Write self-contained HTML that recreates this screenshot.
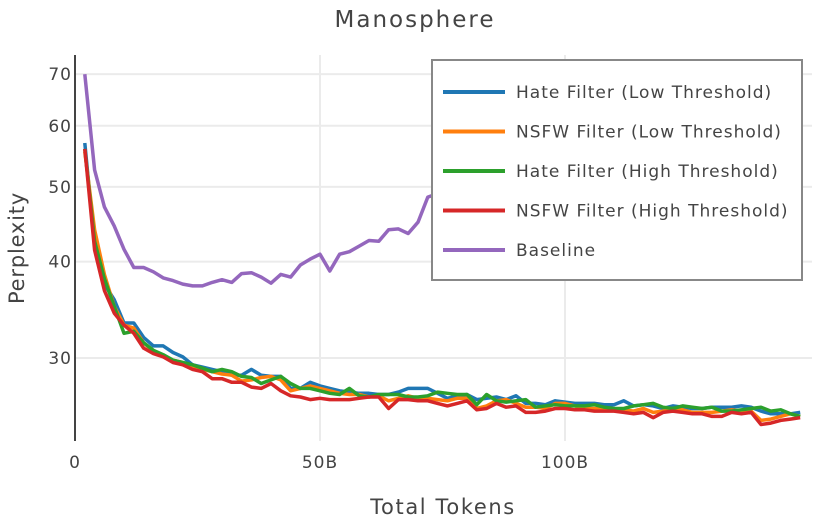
<!DOCTYPE html>
<html><head><meta charset="utf-8"><style>
body{margin:0;background:#fff;}
svg{display:block;font-family:"DejaVu Sans","Liberation Sans",sans-serif;}
</style></head><body>
<svg id="chart" width="830" height="520">
<text x="415" y="27" text-anchor="middle" font-size="23" letter-spacing="2" fill="#444">Manosphere</text>
<g id="grid"></g>
<g id="series"></g>
<line x1="75" y1="55" x2="75" y2="441" stroke="#444" stroke-width="2"/>
<g id="ticks"></g>
<text x="443" y="514" text-anchor="middle" font-size="21" letter-spacing="1.6" fill="#444">Total Tokens</text>
<text transform="translate(24,248) rotate(-90)" text-anchor="middle" font-size="21" letter-spacing="0.8" fill="#444">Perplexity</text>
<g id="legend"></g>
</svg>
<script>
const seriesNames=["Hate Filter (Low Threshold)","NSFW Filter (Low Threshold)","Hate Filter (High Threshold)","NSFW Filter (High Threshold)","Baseline"];
const seriesColors=["#1f77b4","#ff7f0e","#2ca02c","#d62728","#9467bd"];
const xTickValues=[0,50,100];
const xTickLabels=["0","50B","100B"];
const yTickValues=[30,40,50,60,70];
const hateLow=[57,42,37.4,35.7,33.3,33.3,31.9,31.1,31.1,30.5,30.1,29.4,29.2,29.0,28.8,28.5,28.5,29.0,28.5,28.4,28.4,27.4,27.4,27.9,27.6,27.4,27.2,27.1,27.0,27.0,26.9,26.9,27.1,27.4,27.4,27.4,27.0,26.6,26.8,26.9,26.5,26.6,26.7,26.5,26.8,26.2,26.2,26.1,26.4,26.3,26.2,26.2,26.2,26.1,26.1,26.4,26.0,26.1,26.0,25.8,26.0,25.9,25.8,25.8,25.9,25.9,25.9,26.0,25.9,25.6,25.4,25.4,25.4,25.5];
const nsfwLow=[55.5,44,38.5,35,33.1,32.8,31.4,30.6,30.2,29.8,29.6,29.3,29.0,28.8,28.6,28.5,28.0,28.1,28.3,28.4,28.1,27.2,27.4,27.6,27.4,27.2,27.0,26.9,26.9,26.7,26.8,26.4,26.6,26.8,26.6,26.6,26.5,26.4,26.6,26.6,25.8,26.0,26.4,26.5,26.2,25.9,25.9,25.8,26.2,26.2,26.0,25.8,25.8,25.8,25.7,25.7,25.6,25.8,25.5,25.6,25.7,25.7,25.5,25.5,25.5,25.6,25.7,25.6,25.6,24.9,25.0,25.2,25.4,25.2];
const hateHigh=[56,42.5,38,35,32.3,32.5,31.4,30.7,30.3,29.8,29.6,29.4,29.1,28.8,29.0,28.8,28.4,28.3,27.8,28.1,28.4,27.8,27.4,27.4,27.2,27.0,26.9,27.4,26.8,26.7,26.9,26.9,26.9,26.7,26.7,26.8,27.1,27.0,26.9,26.9,26.1,26.9,26.4,26.3,26.4,26.5,25.9,26.0,26.1,26.0,26.0,26.0,26.1,25.9,25.8,25.8,26.0,26.1,26.2,25.9,25.8,26.0,25.9,25.8,25.9,25.6,25.6,25.7,25.8,25.9,25.6,25.7,25.4,25.2];
const nsfwHigh=[56,41.4,36.7,34.3,33.1,32.3,30.9,30.4,30.1,29.6,29.4,29.0,28.8,28.2,28.2,27.9,27.9,27.5,27.4,27.8,27.2,26.8,26.7,26.5,26.6,26.5,26.5,26.5,26.6,26.7,26.7,25.8,26.5,26.5,26.4,26.4,26.2,26.0,26.2,26.4,25.7,25.8,26.2,25.9,26.0,25.5,25.5,25.6,25.8,25.8,25.7,25.7,25.6,25.6,25.6,25.5,25.4,25.5,25.1,25.5,25.6,25.5,25.4,25.4,25.2,25.2,25.5,25.4,25.5,24.6,24.7,24.9,25.0,25.1];
const baseline=[70,52.6,47.1,44.5,41.5,39.3,39.3,38.8,38.1,37.8,37.4,37.2,37.2,37.6,37.9,37.6,38.6,38.7,38.2,37.5,38.5,38.2,39.6,40.3,40.9,38.9,40.9,41.2,41.9,42.6,42.5,44,44.1,43.5,45,48.5,49,49.5,49.2,49.8,50,50.3,50.1,50.5,50.8,50.6,51,51.2,51,51.3,51.5,51.2,51.6,51.8,51.5,51.9,52,51.7,52.1,52.3,52,52.4,52.2,52.5,52.3,52.6,52.4,52.7,52.5,52.8,52.4,52.6,52.3,52.5];
const allSeries=[hateLow,nsfwLow,hateHigh,nsfwHigh,baseline];
const xStep=2;

const NS="http://www.w3.org/2000/svg";
function xs(b){return 75+4.9*b;}
function ys(v){return 358-335*Math.log(v/30);}
function mk(tag,attrs,parent){const e=document.createElementNS(NS,tag);for(const k in attrs)e.setAttribute(k,attrs[k]);parent.appendChild(e);return e;}
const grid=document.getElementById('grid'),ticks=document.getElementById('ticks'),ser=document.getElementById('series'),leg=document.getElementById('legend');
yTickValues.forEach(v=>{
  const l=mk('line',{x1:76,x2:812,y1:ys(v),y2:ys(v),stroke:'#ebebeb','stroke-width':2},grid);
  
  
  const t=mk('text',{x:72,y:ys(v)+6,'text-anchor':'end','font-size':17,'letter-spacing':1,fill:'#444'},ticks);
  t.textContent=v;
  
  
});
xTickValues.forEach((v,i)=>{
  if(v>0){const l=mk('line',{x1:xs(v),x2:xs(v),y1:55,y2:441,stroke:'#ebebeb','stroke-width':2},grid);
  
  }
  const t=mk('text',{x:xs(v),y:468,'text-anchor':'middle','font-size':17,'letter-spacing':1,fill:'#444'},ticks);
  t.textContent=xTickLabels[i];
  
  
});
allSeries.forEach((arr,si)=>{
  const d=arr.map((v,i)=>(i?'L':'M')+xs(xStep*(i+1)).toFixed(1)+','+ys(v).toFixed(1)).join(' ');
  const p=mk('path',{d:d,fill:'none',stroke:seriesColors[si],'stroke-width':3.5,'stroke-linejoin':'round'},ser);
  
  
});
const box=mk('rect',{x:432,y:60,width:370,height:220,fill:'#fff',stroke:'#888','stroke-width':2},leg);


seriesNames.forEach((n,i)=>{
  const y=92+39.5*i;
  const l=mk('line',{x1:443,x2:505,y1:y,y2:y,stroke:seriesColors[i],'stroke-width':4},leg);
  
  
  const t=mk('text',{x:516,y:y+6,'font-size':17,'letter-spacing':1,fill:'#444'},leg);
  t.textContent=n;
  
  
});
</script>
</body></html>
